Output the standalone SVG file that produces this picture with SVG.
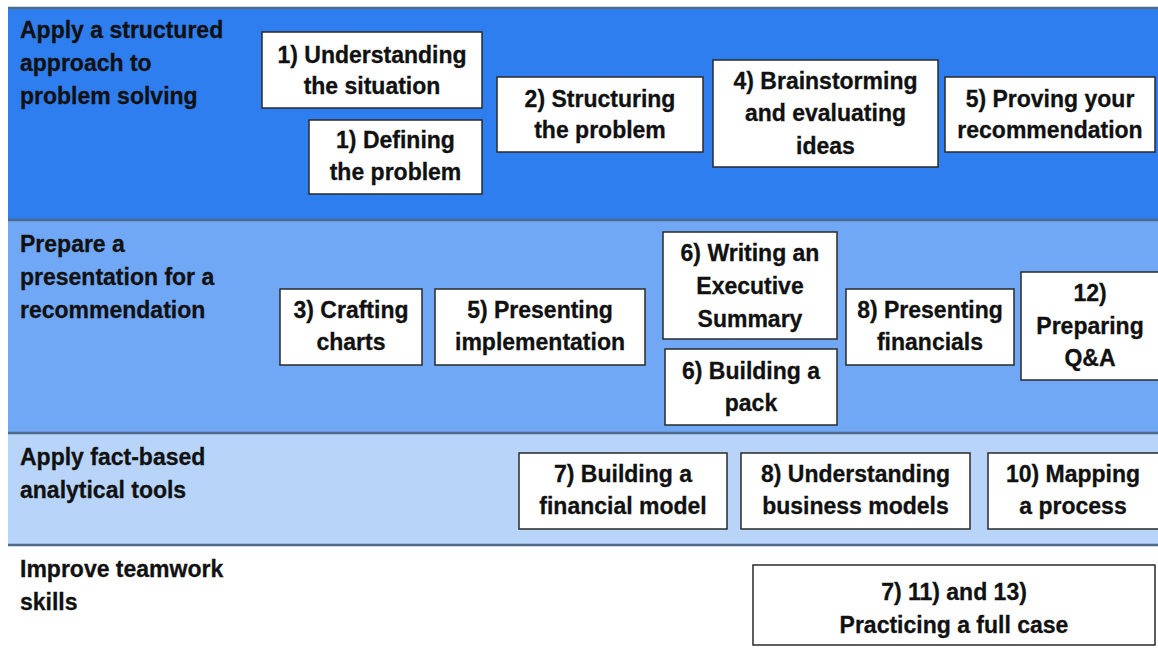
<svg xmlns="http://www.w3.org/2000/svg" width="1158" height="648" viewBox="0 0 1158 648">
<style>
.t{font-family:"Liberation Sans",Arial,sans-serif;font-weight:bold;font-size:23px;fill:#111;stroke:#111;stroke-width:0.3;}
.c{text-anchor:middle;}
.b{fill:#fff;stroke:#2a2a2a;stroke-width:1.5;}
.sep{stroke:#4d6a88;stroke-width:2.5;}
</style>
<rect width="1158" height="648" fill="#fff"/>
<g id="bands">
<rect x="8" y="8" width="1150" height="212" fill="#2F7EF0"/>
<rect x="8" y="220" width="1150" height="213" fill="#71A8F5"/>
<rect x="8" y="433" width="1150" height="112" fill="#B8D4F8"/>
<line class="sep" x1="8" y1="8" x2="1158" y2="8" stroke="#2d5a96"/>
<line class="sep" x1="8" y1="220" x2="1158" y2="220"/>
<line class="sep" x1="8" y1="433" x2="1158" y2="433"/>
<line class="sep" x1="8" y1="545" x2="1158" y2="545"/>
</g>
<g id="titles">
<text class="t" x="20" y="38">Apply a structured</text>
<text class="t" x="20" y="71">approach to</text>
<text class="t" x="20" y="104">problem solving</text>
<text class="t" x="20" y="252">Prepare a</text>
<text class="t" x="20" y="285">presentation for a</text>
<text class="t" x="20" y="318">recommendation</text>
<text class="t" x="20" y="465">Apply fact-based</text>
<text class="t" x="20" y="498">analytical tools</text>
<text class="t" x="20" y="577">Improve teamwork</text>
<text class="t" x="20" y="610">skills</text>
</g>
<g id="n1a"><rect class="b" x="262" y="32" width="220" height="76"/><text class="t c" x="372" y="63">1) Understanding</text><text class="t c" x="372" y="94">the situation</text></g>
<g id="n1b"><rect class="b" x="309" y="120" width="173" height="74"/><text class="t c" x="395.5" y="148">1) Defining</text><text class="t c" x="395.5" y="180">the problem</text></g>
<g id="n2"><rect class="b" x="497" y="77" width="206" height="75"/><text class="t c" x="600" y="107">2) Structuring</text><text class="t c" x="600" y="138">the problem</text></g>
<g id="n4"><rect class="b" x="713" y="60" width="225" height="107"/><text class="t c" x="825.5" y="89">4) Brainstorming</text><text class="t c" x="825.5" y="121">and evaluating</text><text class="t c" x="825.5" y="154">ideas</text></g>
<g id="n5"><rect class="b" x="945" y="77" width="210" height="75"/><text class="t c" x="1050" y="107">5) Proving your</text><text class="t c" x="1050" y="138">recommendation</text></g>
<g id="n3"><rect class="b" x="280" y="289" width="142" height="76"/><text class="t c" x="351" y="318">3) Crafting</text><text class="t c" x="351" y="350">charts</text></g>
<g id="n5b"><rect class="b" x="435" y="289" width="210" height="76"/><text class="t c" x="540" y="318">5) Presenting</text><text class="t c" x="540" y="350">implementation</text></g>
<g id="n6a"><rect class="b" x="663" y="232" width="174" height="107"/><text class="t c" x="750" y="261">6) Writing an</text><text class="t c" x="750" y="294">Executive</text><text class="t c" x="750" y="327">Summary</text></g>
<g id="n6b"><rect class="b" x="665" y="349" width="172" height="76"/><text class="t c" x="751" y="379">6) Building a</text><text class="t c" x="751" y="411">pack</text></g>
<g id="n8"><rect class="b" x="846" y="289" width="168" height="76"/><text class="t c" x="930" y="318">8) Presenting</text><text class="t c" x="930" y="350">financials</text></g>
<g id="n12"><rect class="b" x="1021" y="272" width="145" height="108"/><text class="t c" x="1090" y="301">12)</text><text class="t c" x="1090" y="334">Preparing</text><text class="t c" x="1090" y="366">Q&amp;A</text></g>
<g id="n7"><rect class="b" x="519" y="453" width="208" height="76"/><text class="t c" x="623" y="482">7) Building a</text><text class="t c" x="623" y="514">financial model</text></g>
<g id="n8b"><rect class="b" x="741" y="453" width="229" height="76"/><text class="t c" x="855.5" y="482">8) Understanding</text><text class="t c" x="855.5" y="514">business models</text></g>
<g id="n10"><rect class="b" x="988" y="453" width="178" height="76"/><text class="t c" x="1073" y="482">10) Mapping</text><text class="t c" x="1073" y="514">a process</text></g>
<g id="nfull"><rect class="b" x="753" y="565" width="402" height="80"/><text class="t c" x="954" y="600">7) 11) and 13)</text><text class="t c" x="954" y="633">Practicing a full case</text></g>
<g id="connectors"/>
</svg>
